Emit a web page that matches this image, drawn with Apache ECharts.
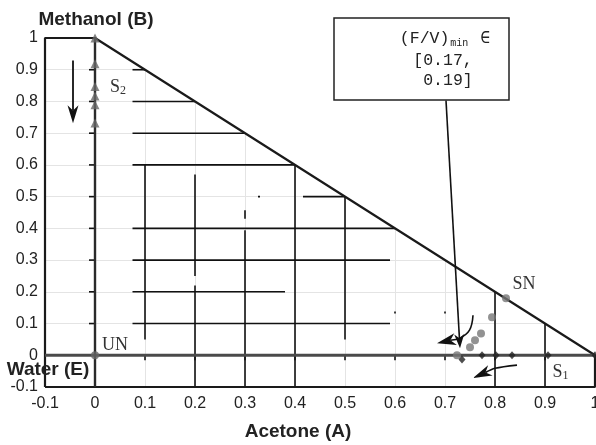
<!DOCTYPE html>
<html><head><meta charset="utf-8">
<script src="https://cdn.jsdelivr.net/npm/echarts@6/dist/echarts.min.js"></script>
<style>html,body{margin:0;padding:0;background:#fff}#c{width:596px;height:445px}</style>
</head><body><div id="c"></div>
<script>
// ---- data ----
const axisTickValues = [-0.1, 0, 0.1, 0.2, 0.3, 0.4, 0.5, 0.6, 0.7, 0.8, 0.9, 1];
const innerTickValues = [0.1, 0.2, 0.3, 0.4, 0.5, 0.6, 0.7, 0.8, 0.9];
const frameOutline = [[-0.1, -0.1], [-0.1, 1], [0, 1], [1, 0], [1, -0.1], [-0.1, -0.1]];
const zeroAxisX = [[-0.1, 0], [1, 0]];
const zeroAxisY = [[0, -0.1], [0, 1]];
const tieLinesHorizontal = [
  [[0.075, 0.9], [0.1, 0.9]],
  [[0.075, 0.8], [0.2, 0.8]],
  [[0.075, 0.7], [0.3, 0.7]],
  [[0.075, 0.6], [0.4, 0.6]],
  [[0.416, 0.5], [0.5, 0.5]],
  [[0.326, 0.5], [0.33, 0.5]],
  [[0.075, 0.4], [0.6, 0.4]],
  [[0.075, 0.3], [0.59, 0.3]],
  [[0.075, 0.2], [0.38, 0.2]],
  [[0.075, 0.1], [0.59, 0.1]]
];
const tieLinesVertical = [
  [[0.1, 0.6], [0.1, 0.05]],
  [[0.2, 0.57], [0.2, 0.25]],
  [[0.2, 0.22], [0.2, -0.1]],
  [[0.3, 0.457], [0.3, 0.43]],
  [[0.3, 0.394], [0.3, -0.1]],
  [[0.4, 0.6], [0.4, -0.1]],
  [[0.5, 0.5], [0.5, 0.05]],
  [[0.6, 0.138], [0.6, 0.132]],
  [[0.7, 0.138], [0.7, 0.132]],
  [[0.8, 0.2], [0.8, -0.1]],
  [[0.9, 0.1], [0.9, -0.1]]
];
const s2Profile = [[0, 1], [0, 0.919], [0, 0.847], [0, 0.817], [0, 0.79], [0, 0.732]];
const unstableNode = [[0, 0]];
const grayProfile = [[0.724, 0], [0.75, 0.025], [0.76, 0.047], [0.772, 0.069], [0.794, 0.12], [0.822, 0.18]];
const s1Profile = [[0.734, -0.013], [0.774, 0], [0.802, 0], [0.834, 0], [0.906, 0], [1, 0]];
const whiteOut = [[0, 1], [1, 0], [1.03, 0], [1.03, 1.015], [0, 1.015]];

// ---- annotations (data coordinates) ----
const arrows = [
  { pts: [[-0.044, 0.929], [-0.044, 0.731]], head: 18, w: 11, lw: 1.8 },
  { pts: [[0.702, 0.803], [0.73, 0.022]], head: 14, w: 10, lw: 1.6 },
  { pts: [[0.756, 0.126], [0.749, 0.079], [0.73, 0.054], [0.684, 0.038]], head: 19, w: 12, lw: 1.6, smooth: 0.4 },
  { pts: [[0.844, -0.031], [0.8, -0.041], [0.756, -0.072]], head: 19, w: 11, lw: 1.6, smooth: 0.3 }
];
const pointLabels = [
  { at: [0.014, 0.03], text: 'UN', align: 'left' },
  { at: [0.835, 0.225], text: 'SN', align: 'left' },
  { at: [0.915, -0.053], text: '{m|S}{s|1}', align: 'left' },
  { at: [0.03, 0.845], text: '{m|S}{s|2}', align: 'left' }
];

const chart = echarts.init(document.getElementById('c'), null, { renderer: 'canvas' });

function segRender(list, lw) {
  return function (params, api) {
    const s = list[params.dataIndex];
    const a = api.coord(s[0]), b = api.coord(s[1]);
    return { type: 'line', shape: { x1: a[0], y1: a[1], x2: b[0], y2: b[1] }, style: { stroke: '#111', lineWidth: lw } };
  };
}

const labelFont = '18px "Liberation Serif", serif';
const option = {
  animation: false,
  backgroundColor: '#fff',
  grid: { left: 45, right: 1, top: 38, bottom: 58, containLabel: false, outerBoundsMode: 'none' },
  xAxis: {
    type: 'value', min: -0.1, max: 1, interval: 0.1,
    axisLine: { show: false, onZero: false },
    axisTick: { show: false },
    splitLine: { show: true, lineStyle: { color: '#e4e4e4', width: 1 } },
    axisLabel: { color: '#222', fontSize: 16, fontFamily: 'Liberation Sans, Arial, sans-serif', margin: 9, showMinLabel: true, showMaxLabel: true,
      formatter: v => String(Math.round(v * 10) / 10) }
  },
  yAxis: {
    type: 'value', min: -0.1, max: 1, interval: 0.1,
    axisLine: { show: false, onZero: false },
    axisTick: { show: false },
    splitLine: { show: true, lineStyle: { color: '#e4e4e4', width: 1 } },
    axisLabel: { color: '#222', fontSize: 16, fontFamily: 'Liberation Sans, Arial, sans-serif', margin: 7, showMinLabel: true, showMaxLabel: true,
      formatter: v => String(Math.round(v * 10) / 10) }
  },
  graphic: [
    { type: 'text', left: 'center', x: 0, style: {} , invisible: true },
    { type: 'text', x: 96, y: 20, z: 50, style: { text: 'Methanol (B)', font: 'bold 19px "Liberation Sans", Arial, sans-serif', fill: '#222', align: 'center', verticalAlign: 'middle' } },
    { type: 'text', x: 48, y: 370, z: 50, style: { text: 'Water (E)', font: 'bold 19px "Liberation Sans", Arial, sans-serif', fill: '#222', align: 'center', verticalAlign: 'middle' } },
    { type: 'text', x: 298, y: 432, z: 50, style: { text: 'Acetone (A)', font: 'bold 19px "Liberation Sans", Arial, sans-serif', fill: '#222', align: 'center', verticalAlign: 'middle' } },
    { type: 'rect', z: 50, shape: { x: 334, y: 18, width: 175, height: 82 }, style: { fill: '#fff', stroke: '#222', lineWidth: 1.5 } },
    { type: 'text', x: 445, y: 39, z: 51, style: {
      text: '(F/V){s|min} ∈', font: '16.5px "Liberation Mono", monospace', fill: '#222', align: 'center', verticalAlign: 'middle',
      rich: { s: { font: '10px "Liberation Mono", monospace', fill: '#222', padding: [8, 2, 0, 1] } } } },
    { type: 'text', x: 443, y: 61, z: 51, style: { text: '[0.17,', font: '16.5px "Liberation Mono", monospace', fill: '#222', align: 'center', verticalAlign: 'middle' } },
    { type: 'text', x: 443, y: 81, z: 51, style: { text: ' 0.19]', font: '16.5px "Liberation Mono", monospace', fill: '#222', align: 'center', verticalAlign: 'middle' } }
  ],
  series: [
    { type: 'custom', z: 1, silent: true, clip: false, data: [[0, 0]],
      renderItem: (params, api) => ({ type: 'polygon', shape: { points: whiteOut.map(p => api.coord(p)) }, style: { fill: '#fff' } }) },
    { type: 'custom', z: 3, silent: true, data: tieLinesHorizontal.map(s => s[0]), renderItem: segRender(tieLinesHorizontal, 1.6) },
    { type: 'custom', z: 3, silent: true, data: tieLinesVertical.map(s => s[0]), renderItem: segRender(tieLinesVertical, 1.6) },
    { type: 'line', z: 4, data: frameOutline, symbol: 'none', silent: true, lineStyle: { color: '#1a1a1a', width: 2.2 } },
    { type: 'line', z: 4, data: zeroAxisX, symbol: 'none', silent: true, lineStyle: { color: '#4a4a4a', width: 3 } },
    { type: 'line', z: 4, data: zeroAxisY, symbol: 'none', silent: true, lineStyle: { color: '#2a2a2a', width: 2.4 } },
    { type: 'custom', z: 4, silent: true, data: innerTickValues.map(v => [v, 0]),
      renderItem: (params, api) => { const p = api.coord([innerTickValues[params.dataIndex], 0]);
        return { type: 'line', shape: { x1: p[0], y1: p[1], x2: p[0], y2: p[1] + 5 }, style: { stroke: '#111', lineWidth: 1.6 } }; } },
    { type: 'custom', z: 4, silent: true, data: innerTickValues.map(v => [0, v]),
      renderItem: (params, api) => { const p = api.coord([0, innerTickValues[params.dataIndex]]);
        return { type: 'line', shape: { x1: p[0] - 6, y1: p[1], x2: p[0], y2: p[1] }, style: { stroke: '#111', lineWidth: 1.6 } }; } },
    { type: 'scatter', z: 6, data: s2Profile, symbol: 'triangle', symbolSize: [9, 9], itemStyle: { color: '#666' }, silent: true },
    { type: 'scatter', z: 6, data: unstableNode, symbol: 'circle', symbolSize: 8, itemStyle: { color: '#666' }, silent: true },
    { type: 'scatter', z: 6, data: grayProfile, symbol: 'circle', symbolSize: 8, itemStyle: { color: '#777' }, silent: true },
    { type: 'scatter', z: 6, data: s1Profile, symbol: 'diamond', symbolSize: [7, 8], itemStyle: { color: '#222' }, silent: true },
    { type: 'custom', z: 8, silent: true, clip: false, data: arrows.map(a => a.pts[0]),
      renderItem: (params, api) => {
        const a = arrows[params.dataIndex];
        const pts = a.pts.map(p => api.coord(p));
        const tip = pts[pts.length - 1], prev = pts[pts.length - 2];
        const dx = tip[0] - prev[0], dy = tip[1] - prev[1], len = Math.hypot(dx, dy);
        const ux = dx / len, uy = dy / len, px = -uy, py = ux;
        const bx = tip[0] - ux * a.head, by = tip[1] - uy * a.head;
        const nx = tip[0] - ux * a.head * 0.72, ny = tip[1] - uy * a.head * 0.72;
        const shaft = pts.slice(0, -1).concat([[nx, ny]]);
        return { type: 'group', children: [
          { type: 'polyline', shape: { points: shaft, smooth: a.smooth || 0 }, style: { stroke: '#111', lineWidth: a.lw, fill: null } },
          { type: 'polygon', shape: { points: [tip, [bx + px * a.w / 2, by + py * a.w / 2], [nx, ny], [bx - px * a.w / 2, by - py * a.w / 2]] }, style: { fill: '#111' } }
        ] };
      } },
    { type: 'custom', z: 9, silent: true, clip: false, data: pointLabels.map(l => l.at),
      renderItem: (params, api) => {
        const l = pointLabels[params.dataIndex];
        const p = api.coord(l.at);
        return { type: 'text', x: p[0], y: p[1], style: { text: l.text, font: labelFont, fill: '#333', align: l.align, verticalAlign: 'middle',
          rich: { m: { font: labelFont, fill: '#333' }, s: { font: '12px "Liberation Serif", serif', fill: '#333', padding: [8, 0, 0, 0] } } } };
      } }
  ]
};
chart.setOption(option);
</script>
</body></html>
